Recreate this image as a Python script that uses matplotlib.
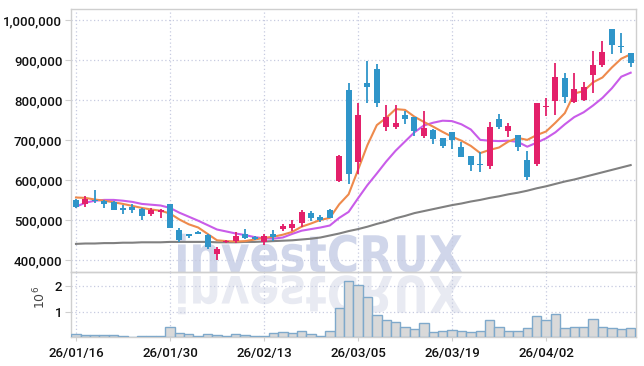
import matplotlib
matplotlib.use('Agg')
import matplotlib.pyplot as plt
import numpy as np
from matplotlib.ticker import FuncFormatter
from matplotlib.textpath import TextPath
from matplotlib.font_manager import FontProperties
from matplotlib.patches import PathPatch
from matplotlib.transforms import Affine2D

# tick dates (every 10 trading days)
tick_pos = [0, 10, 20, 30, 40, 50]
tick_labels = ['26/01/16', '26/01/30', '26/02/13', '26/03/05', '26/03/19', '26/04/02']

# prices in thousand won
opens = [551, 542, 552, 549, 546, 532, 534, 529, 517, 522,
         541, 477, 467, 472, 463, 415, 445, 449, 467, 459,
         446, 465, 478, 480, 494, 519, 509, 526, 599, 826,
         647, 844, 878, 734, 732, 762, 757, 711, 726, 705,
         720, 684, 662, 641, 636, 753, 722, 713, 651, 642,
         783, 799, 855, 795, 801, 862, 889, 977, 936, 917]
highs = [553, 561, 577, 550, 548, 539, 541, 531, 531, 528,
         541, 482, 467, 474, 467, 434, 450, 472, 478, 461,
         466, 477, 492, 501, 526, 523, 513, 528, 663, 842,
         792, 897, 890, 788, 788, 773, 757, 772, 728, 705,
         720, 697, 662, 671, 745, 765, 744, 713, 674, 794,
         806, 892, 869, 867, 846, 924, 947, 977, 967, 917]
lows = [532, 534, 544, 530, 526, 517, 519, 501, 511, 505,
        480, 446, 457, 466, 428, 401, 443, 443, 454, 452,
        438, 448, 473, 473, 484, 499, 497, 505, 595, 592,
        617, 794, 784, 723, 728, 741, 711, 706, 692, 682,
        678, 659, 624, 621, 629, 727, 709, 673, 602, 636,
        760, 763, 794, 792, 797, 817, 884, 915, 919, 882]
closes = [534, 553, 549, 541, 526, 526, 526, 512, 527, 526,
          480, 451, 462, 467, 434, 428, 448, 461, 457, 453,
          461, 459, 486, 491, 522, 505, 502, 507, 661, 616,
          763, 832, 794, 758, 744, 753, 722, 731, 704, 686,
          701, 659, 638, 640, 732, 734, 736, 684, 609, 792,
          785, 859, 807, 827, 832, 888, 920, 937, 934, 892]

# moving averages (thousand won)
ma5 = [557, 556, 552, 549, 545, 541, 536, 531, 527, 524,
       517, 502, 490, 482, 466, 450, 448, 447, 448, 452,
       456, 459, 464, 471, 484, 492, 501, 506, 540, 565,
       626, 688, 738, 756, 778, 776, 759, 746, 734, 721,
       709, 699, 686, 668, 676, 682, 697, 706, 701, 713,
       722, 744, 768, 817, 823, 845, 857, 882, 904, 915]
ma10 = [534, 544, 549, 551, 551, 549, 546, 541, 539, 537,
        531, 519, 509, 499, 488, 477, 472, 467, 463, 458,
        455, 454, 457, 466, 474, 478, 482, 487, 506, 521,
        555, 588, 617, 647, 674, 697, 720, 737, 744, 749,
        748, 740, 727, 701, 699, 698, 699, 696, 684, 694,
        705, 720, 740, 758, 770, 787, 806, 830, 859, 869]
ma60 = [441, 442, 442, 443, 443, 444, 444, 445, 445, 445,
        446, 446, 446, 446, 446, 445, 445, 445, 446, 446,
        447, 448, 449, 450, 452, 454, 457, 462, 467, 473,
        478, 484, 491, 497, 505, 511, 518, 523, 528, 533,
        538, 542, 547, 551, 556, 560, 565, 569, 574, 580,
        585, 591, 597, 602, 608, 614, 620, 626, 632, 638]

# volume in millions of shares
volume = [0.12, 0.09, 0.09, 0.09, 0.09, 0.05, 0.02, 0.05, 0.05, 0.05,
          0.39, 0.17, 0.12, 0.05, 0.12, 0.09, 0.05, 0.12, 0.09, 0.05,
          0.05, 0.17, 0.21, 0.17, 0.24, 0.12, 0.05, 0.24, 1.15, 2.19,
          2.04, 1.56, 0.87, 0.69, 0.61, 0.39, 0.31, 0.57, 0.20, 0.24,
          0.27, 0.24, 0.20, 0.24, 0.69, 0.39, 0.24, 0.24, 0.35, 0.84,
          0.69, 0.91, 0.35, 0.42, 0.39, 0.72, 0.42, 0.35, 0.31, 0.35]

o = np.array(opens) * 1000
h = np.array(highs) * 1000
l = np.array(lows) * 1000
c = np.array(closes) * 1000
x = np.arange(len(o))

RED = '#E3206A'
BLUE = '#2F95C9'
GRID = '#C7CBE0'
FRAME = '#CFCFCF'
FONT = 'Roboto'

fig = plt.figure(figsize=(6.44, 3.66), dpi=100, facecolor='white')
ax = fig.add_axes([0.1098, 0.256, 0.8778, 0.7186], facecolor='none')
axv = fig.add_axes([0.1098, 0.0779, 0.8778, 0.1781], facecolor='none', sharex=ax)

# watermark + reflection
fp = FontProperties(family='DejaVu Sans', weight='bold')
tp = TextPath((0, 0), 'investCRUX', size=10, prop=fp)
ext = tp.get_extents()
sx = 284 / ext.width
sy = 39 / ext.height
tr = Affine2D().translate(-ext.x0, 0).scale(sx / 100, sy / 100).translate(1.78, 0.94) + fig.dpi_scale_trans
fig.patches.append(PathPatch(tp, transform=tr, facecolor='#D0D6EA', edgecolor='none', zorder=-1))
tr2 = Affine2D().translate(-ext.x0, 0).scale(sx / 100, -sy / 100).translate(1.78, 0.90) + fig.dpi_scale_trans
fig.patches.append(PathPatch(tp, transform=tr2, facecolor='#E8EAF2', edgecolor='none', zorder=-1))

# moving averages
ax.plot(x, np.array(ma60) * 1000, color='#808080', lw=1.5, zorder=2)
ax.plot(x, np.array(ma10) * 1000, color='#C95CE9', lw=1.5, zorder=2)
ax.plot(x, np.array(ma5) * 1000, color='#EE8A4C', lw=1.5, zorder=2)

# candles
up = c >= o
cols = np.where(up, RED, BLUE)
ax.vlines(x, l, h, colors=cols, lw=1.3, zorder=3)
body = np.maximum(np.abs(c - o), 2500)
bottom = np.where(np.abs(c - o) < 2500, (o + c) / 2 - 1250, np.minimum(o, c))
ax.bar(x, body, bottom=bottom, width=0.64, color=cols, zorder=4)

# volume
axv.bar(x, np.array(volume) * 1e6, width=1.0, color='#D9D9D9', edgecolor='#7FA9CB', linewidth=1, zorder=3)

ax.set_xlim(-0.56, 59.57)
ax.set_ylim(370000, 1027500)
axv.set_ylim(0, 2.51e6)

ax.set_yticks([400000, 500000, 600000, 700000, 800000, 900000, 1000000])
ax.yaxis.set_major_formatter(FuncFormatter(lambda v, p: f'{int(v):,}'))
axv.set_yticks([1e6, 2e6])
axv.set_yticklabels(['1', '2'])
axv.set_xticks(tick_pos)
axv.set_xticklabels(tick_labels)

for a in (ax, axv):
    a.grid(True, color=GRID, linestyle=(0, (1, 2)), lw=0.9)
    a.set_axisbelow(True)
    for s in a.spines.values():
        s.set_color(FRAME)
        s.set_linewidth(1)
    a.tick_params(axis='y', length=4, color=FRAME, labelsize=9.5, labelcolor='#111111', pad=2)
    for t in a.get_yticklabels():
        t.set_family(FONT)
        t.set_weight('medium')
ax.tick_params(axis='x', length=0, labelbottom=False)
axv.tick_params(axis='x', length=3, color=FRAME, labelsize=9.5, labelcolor='#111111', pad=4)
for t in axv.get_xticklabels():
    t.set_family(FONT)
    t.set_weight('medium')

fig.text(40 / 644, 1 - 297 / 366, '$10^6$', rotation=90, ha='center', va='center',
         fontsize=9, color='#444444')

fig.savefig('out.png', dpi=100, facecolor='white')
